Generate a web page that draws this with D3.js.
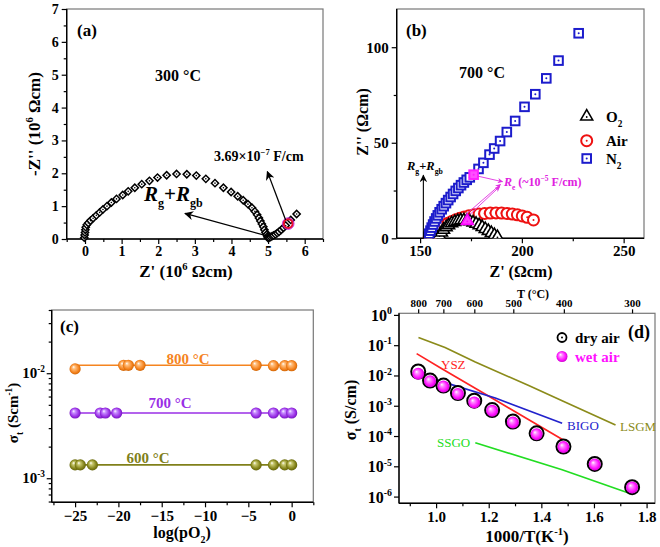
<!DOCTYPE html>
<html><head><meta charset="utf-8">
<script src="https://cdn.jsdelivr.net/npm/d3@7"></script>
<style>body{margin:0;background:#fff} svg{display:block}</style>
</head><body><svg id="c" width="660" height="547"></svg>
<script>
// ---------------- DATA ----------------
// (a) 300 °C impedance arc (Z' , -Z'' in 10^6 Ωcm)
const aArc = [[-0.02,0.04],[-0.01,0.12],[0.0,0.2],[0.01,0.28],[0.02,0.36],[0.05,0.43],[0.09,0.49],[0.15,0.56],[0.22,0.63],[0.31,0.72],[0.4,0.81],[0.49,0.9],[0.6,1.0],[0.72,1.11],[0.86,1.22],[1.03,1.34],[1.18,1.45],[1.36,1.56],[1.55,1.67],[1.76,1.77],[1.98,1.87],[2.23,1.94],[2.5,1.98],[2.78,1.97],[3.04,1.93],[3.3,1.83],[3.55,1.7],[3.78,1.56],[3.99,1.43],[4.17,1.3],[4.32,1.18],[4.45,1.06],[4.56,0.95],[4.64,0.84],[4.7,0.74],[4.75,0.64],[4.79,0.55],[4.83,0.46],[4.87,0.37],[4.9,0.28],[4.93,0.2],[4.96,0.13],[4.98,0.07],[5.0,0.03]];
const aTail = [[5.03,0.04],[5.07,0.06],[5.11,0.09],[5.15,0.11],[5.2,0.14],[5.25,0.18],[5.3,0.22],[5.36,0.28],[5.42,0.34],[5.48,0.41],[5.62,0.58],[5.78,0.76]];
const aMark = [5.55,0.47];
const aXTicks = [0,1,2,3,4,5,6];
const aYTicks = [0,1,2,3,4,5,6,7];

// (b) 700 °C impedance (Ωcm)
const bN2 = [[154,0.8],[154.5,2.4],[155.1,4],[155.7,5.6],[156.4,7.2],[157.1,8.8],[157.9,10.4],[158.7,12],[159.6,13.6],[160.6,15.2],[161.6,16.8],[162.7,18.4],[163.8,20],[165,21.6],[166.2,23.2],[167.5,24.8],[168.8,26.3],[170.1,27.8],[171.5,29.2],[172.9,30.6],[174.4,31.9],[178.7,36.3],[181.1,39.5],[184.1,43.8],[186.4,47],[189.3,50.9],[192.6,55.6],[196.7,61.4],[201.3,68.8],[206.6,75.4],[212,83.7],[218,93],[227.9,107.3]];
const bAir = [[154.5,0.5],[155.5,1.5],[156.5,2.6],[157.7,3.7],[159,4.8],[160.5,5.9],[162,6.9],[163.7,7.9],[165.5,8.8],[167.5,9.7],[169.5,10.5],[171.7,11.2],[174,11.8],[176.5,12.3],[179,12.7],[181.7,13],[184.5,13.2],[187.3,13.3],[190,13.2],[192.7,13],[195.3,12.7],[197.8,12.3],[200.2,11.7],[202.6,11],[205.7,9.6]];
const bO2 = [[158.5,0.5],[159.5,2],[160.5,3.5],[161.5,5],[162.8,6.3],[164,7.4],[165.5,8.4],[167,9.1],[168.5,9.6],[170,9.9],[171.5,10],[173,9.8],[174.5,9.4],[176,8.8],[177.5,8.1],[179,7.3],[180.5,6.4],[182,5.4],[183.5,4.4],[185,3.3],[186.5,2.2],[188,1.2]];
const bMarkN2 = [176.3,33.3];
const bMarkO2 = [173.2,9.6];
const bXTicks = [150,200,250];
const bYTicks = [0,50,100];

// (c) conductivity vs log(pO2)
const cTemps = ["800 °C","700 °C","600 °C"];
const cLogPO2 = [
  [-25,-19.4,-18.85,-17.5,-4.1,-2.1,-0.8,0],
  [-25,-22.1,-21.5,-20.2,-4.1,-2.1,-0.8,0],
  [-25,-24.4,-23,-4.1,-2.1,-0.8,0]
];
const cSigma = [
  [0.0110,0.0119,0.0119,0.0119,0.0119,0.0118,0.0118,0.0118],
  [0.00418,0.00418,0.00418,0.00418,0.00418,0.00418,0.00418,0.00418],
  [0.00134,0.00134,0.00134,0.00134,0.00134,0.00134,0.00134]
];
const cLineY = [0.0119,0.00418,0.00134];
const cXTicks = [-25,-20,-15,-10,-5,0];

// (d) Arrhenius plot
const dInvT = [0.932,0.977,1.028,1.083,1.145,1.213,1.292,1.382,1.484,1.603,1.745];
const dDry = [0.0135,0.0068,0.00464,0.00264,0.00147,7.2e-4,3.0e-4,1.23e-4,4.5e-5,1.2e-5,2.05e-6];
const dWet = [0.01135,0.00647,0.0043,0.00245,0.00129,6.8e-4,2.78e-4,1.14e-4,4.3e-5,1.14e-5,2.0e-6];
const dLSGM = [[0.933,0.18],[1.034,0.0836],[1.149,0.0278],[1.352,0.00464],[1.479,0.00147],[1.682,2.3e-4]];
const dYSZ = [[0.926,0.0527],[1.022,0.0167],[1.225,0.00155],[1.485,7.2e-5]];
const dBIGO = [[0.928,0.0114],[1.05,0.0053],[1.225,0.0018],[1.479,2.64e-4]];
const dSSGO = [[1.149,6e-5],[1.479,7.7e-6],[1.745,1.2e-6]];
const dXTicks = [1.0,1.2,1.4,1.6,1.8];
const dTopT = [800,700,600,500,400,300];
const dYExp = [0,-1,-2,-3,-4,-5,-6];

// ---------------- DRAWING ----------------
const FONT = '"Liberation Serif","Times New Roman",serif';
const svg = d3.select("#c");
const defs = svg.append("defs");

function arrowMarker(id, color, w) {
  defs.append("marker").attr("id", id).attr("viewBox","0 0 10 10").attr("refX",9).attr("refY",5)
    .attr("markerWidth", w).attr("markerHeight", w).attr("orient","auto-start-reverse")
    .append("path").attr("d","M0,0 L10,5 L0,10 L3,5 z").attr("fill", color);
}
arrowMarker("arrK","#000",7);
arrowMarker("arrM","#e030e0",6);

function ballGrad(id, light, mid, dark) {
  const g = defs.append("radialGradient").attr("id", id).attr("cx","50%").attr("cy","50%").attr("r","55%").attr("fx","35%").attr("fy","32%");
  g.append("stop").attr("offset","0%").attr("stop-color","#ffffff");
  g.append("stop").attr("offset","25%").attr("stop-color",light);
  g.append("stop").attr("offset","70%").attr("stop-color",mid);
  g.append("stop").attr("offset","100%").attr("stop-color",dark);
}
ballGrad("gOr","#ffc080","#f5841f","#c85e00");
ballGrad("gPu","#c890ff","#9a2fe6","#6a10b0");
ballGrad("gOl","#c8c870","#84841a","#5a5a08");
ballGrad("gMa","#ff90ff","#ff10ff","#c000c0");

function rich(sel, x, y, parts, fs, opts = {}) {
  const t = sel.append("text").attr("font-size", fs).attr("font-family", FONT)
    .attr("font-weight", opts.weight || "bold").attr("text-anchor", opts.anchor || "start")
    .attr("fill", opts.fill || "#000");
  if (opts.rotate) t.attr("transform", `translate(${x},${y}) rotate(-90)`).attr("x",0).attr("y",0);
  else t.attr("x", x).attr("y", y);
  let shift = 0;
  parts.forEach(p => {
    const target = p.sup ? -0.42 * fs : p.sub ? 0.3 * fs : 0;
    const ts = t.append("tspan").text(p.t).attr("dy", target - shift);
    if (p.sup || p.sub) ts.attr("font-size", fs * 0.62);
    if (p.it) ts.attr("font-style", "italic");
    if (p.fs) ts.attr("font-size", p.fs);
    shift = target;
  });
  return t;
}

function frame(x0, x1, y0, y1) {
  svg.append("rect").attr("x", x0).attr("y", y0).attr("width", x1 - x0).attr("height", y1 - y0)
    .attr("fill","none").attr("stroke","#777").attr("stroke-width",1.2);
  svg.append("line").attr("x1",x0).attr("x2",x0).attr("y1",y0).attr("y2",y1).attr("stroke","#000").attr("stroke-width",1.4);
  svg.append("line").attr("x1",x0).attr("x2",x1).attr("y1",y1).attr("y2",y1).attr("stroke","#000").attr("stroke-width",1.4);
}

function drawAxis(gen, tx, ty, fs) {
  const a = svg.append("g").attr("transform", `translate(${tx},${ty})`).call(gen);
  a.select(".domain").remove();
  a.selectAll("line").attr("stroke","#000").attr("stroke-width",1.2);
  a.selectAll("text").attr("font-family", FONT).attr("font-weight","bold").attr("font-size", fs).attr("fill","#000");
  return a;
}
function range(a, b, s) { const r = []; for (let v = a; v <= b + 1e-9; v += s) r.push(+v.toFixed(4)); return r; }
const intFmt = d3.format("d");

// ===== Panel (a) =====
{
  const X = d3.scaleLinear().domain([-0.5, 6.5]).range([66.7, 323]);
  const Y = d3.scaleLinear().domain([0, 7]).range([239, 9]);
  frame(66.7, 323, 9, 239);
  drawAxis(d3.axisBottom(X).tickValues(range(-0.5,6.5,0.5).filter(v=>!aXTicks.includes(v))).tickSize(3).tickFormat(""), 0, 239, 14);
  drawAxis(d3.axisBottom(X).tickValues(aXTicks).tickSize(5).tickPadding(2).tickFormat(intFmt), 0, 239, 14);
  drawAxis(d3.axisLeft(Y).tickValues(range(0.5,6.5,1)).tickSize(3).tickFormat(""), 66.7, 0, 14);
  drawAxis(d3.axisLeft(Y).tickValues(aYTicks).tickSize(5).tickPadding(3).tickFormat(intFmt), 66.7, 0, 14);

  const sym = d3.symbol(d3.symbolSquare, 26);
  const g = svg.append("g");
  aArc.concat(aTail).forEach(d => {
    g.append("path").attr("d", sym()).attr("transform", `translate(${X(d[0])},${Y(d[1])}) rotate(45)`)
      .attr("fill","#fff").attr("stroke","#000").attr("stroke-width",1.5);
    g.append("circle").attr("cx", X(d[0])).attr("cy", Y(d[1])).attr("r",0.8).attr("fill","#000");
  });
  svg.append("circle").attr("cx", X(aMark[0])).attr("cy", Y(aMark[1])).attr("r",4.5)
    .attr("fill","none").attr("stroke","#e8102a").attr("stroke-width",2.2);
  svg.append("circle").attr("cx", X(aMark[0])).attr("cy", Y(aMark[1])).attr("r",5.8)
    .attr("fill","none").attr("stroke","#c020e0").attr("stroke-width",0.9);
  // arrows
  svg.append("line").attr("x1", X(4.95)).attr("y1", Y(0.1)).attr("x2", X(2.73)).attr("y2", Y(0.78))
    .attr("stroke","#000").attr("stroke-width",1.3).attr("marker-end","url(#arrK)");
  svg.append("line").attr("x1", X(5.48)).attr("y1", Y(0.58)).attr("x2", X(4.98)).attr("y2", Y(2.05))
    .attr("stroke","#000").attr("stroke-width",1.3).attr("marker-end","url(#arrK)");

  rich(svg, 77, 36, [{t:"(a)"}], 17);
  rich(svg, 178, 81, [{t:"300 °C"}], 16, {anchor:"middle"});
  rich(svg, 214, 161, [{t:"3.69×10"},{t:"−7",sup:true},{t:" F/cm"}], 14);
  rich(svg, 144, 201, [{t:"R",it:true},{t:"g",sub:true,fs:12},{t:"+"},{t:"R",it:true},{t:"gb",sub:true,fs:12}], 21);
  rich(svg, 40, 124, [{t:"-Z'' (10"},{t:"6",sup:true},{t:" Ωcm)"}], 17, {anchor:"middle", rotate:true});
  rich(svg, 186, 277, [{t:"Z' (10"},{t:"6",sup:true},{t:" Ωcm)"}], 17, {anchor:"middle"});
}

// ===== Panel (b) =====
{
  const X = d3.scaleLinear().domain([138.5, 260]).range([396.7, 644]);
  const Y = d3.scaleLinear().domain([0, 120]).range([238.3, 9]);
  frame(396.7, 644, 9, 238.3);
  drawAxis(d3.axisBottom(X).tickValues([175,225]).tickSize(3).tickFormat(""), 0, 238.3, 15);
  drawAxis(d3.axisBottom(X).tickValues(bXTicks).tickSize(5).tickPadding(2).tickFormat(intFmt), 0, 238.3, 15);
  drawAxis(d3.axisLeft(Y).tickValues([25,75]).tickSize(3).tickFormat(""), 396.7, 0, 15);
  drawAxis(d3.axisLeft(Y).tickValues(bYTicks).tickSize(5).tickPadding(3).tickFormat(intFmt), 396.7, 0, 15);

  defs.append("clipPath").attr("id","clipB").append("rect").attr("x",396.7).attr("y",9).attr("width",247.3).attr("height",229.3);
  const g = svg.append("g").attr("clip-path","url(#clipB)");
  const circ = (gg, x, y, col) => {
    gg.append("circle").attr("cx", x).attr("cy", y).attr("r",5.5).attr("fill","#fff").attr("stroke",col).attr("stroke-width",2);
    gg.append("circle").attr("cx", x).attr("cy", y).attr("r",1).attr("fill",col);
  };
  const tri = (gg, x, y, col, fill) => {
    gg.append("path").attr("d", d3.symbol(d3.symbolTriangle, 62)()).attr("transform",`translate(${x},${y+1})`)
      .attr("fill", fill || "#fff").attr("stroke",col).attr("stroke-width",1.6);
    gg.append("circle").attr("cx", x).attr("cy", y+1.5).attr("r",0.9).attr("fill",col);
  };
  const sq = (gg, x, y, col, fill) => {
    gg.append("rect").attr("x", x-4.3).attr("y", y-4.3).attr("width",8.6).attr("height",8.6)
      .attr("fill", fill || "#fff").attr("stroke",col).attr("stroke-width",2);
    gg.append("circle").attr("cx", x).attr("cy", y).attr("r",1).attr("fill",col);
  };
  bAir.forEach(d => circ(g, X(d[0]), Y(d[1]), "#ee1111"));
  bO2.forEach(d => tri(g, X(d[0]), Y(d[1]), "#000"));
  tri(g, X(bMarkO2[0]), Y(bMarkO2[1]), "#ff00ff", "#ff40ff");
  bN2.forEach(d => sq(g, X(d[0]), Y(d[1]), "#1c1ccc"));
  sq(g, X(bMarkN2[0]), Y(bMarkN2[1]), "#ff20ff", "#ff50ff");

  // Rg+Rgb arrow
  svg.append("line").attr("x1", X(151.6)).attr("y1", Y(0)).attr("x2", X(151.6)).attr("y2", Y(33))
    .attr("stroke","#000").attr("stroke-width",1.1).attr("marker-end","url(#arrK)");
  rich(svg, 407, 170, [{t:"R",it:true},{t:"g",sub:true},{t:"+"},{t:"R",it:true},{t:"gb",sub:true}], 12.5);
  // magenta arrows
  const mA = (x1,y1,x2,y2) => svg.append("line").attr("x1",X(x1)).attr("y1",Y(y1)).attr("x2",X(x2)).attr("y2",Y(y2))
      .attr("stroke","#e030e0").attr("stroke-width",0.9).attr("marker-end","url(#arrM)");
  mA(178.5,32.5,190.5,29.6);
  mA(172.5,12.5,189.5,28.2);
  mA(174.2,12.2,189,27);
  rich(svg, 504, 186, [{t:"R",it:true},{t:"e",sub:true},{t:" (~10"},{t:"−5",sup:true},{t:" F/cm)"}], 12, {fill:"#e020e0"});

  rich(svg, 406, 36, [{t:"(b)"}], 17);
  rich(svg, 482, 78, [{t:"700 °C"}], 16, {anchor:"middle"});
  // legend
  const lg = svg.append("g");
  tri(lg, 586.7, 115.5, "#000");
  circ(lg, 586.7, 140.7, "#ee1111");
  sq(lg, 586.7, 158.5, "#1c1ccc");
  rich(svg, 606, 122, [{t:"O"},{t:"2",sub:true}], 15);
  rich(svg, 606, 146, [{t:"Air"}], 15);
  rich(svg, 606, 164, [{t:"N"},{t:"2",sub:true}], 15);

  rich(svg, 368, 122, [{t:"Z'' (Ωcm)"}], 16, {anchor:"middle", rotate:true});
  rich(svg, 521, 277, [{t:"Z' (Ωcm)"}], 16, {anchor:"middle"});
}

// ===== Panel (c) =====
{
  const X = d3.scaleLinear().domain([-27.7, 2.5]).range([51.7, 313.3]);
  const Y = d3.scaleLog().domain([5.9e-4, 0.04]).range([502.3, 310]);
  frame(51.7, 313.3, 310, 502.3);
  drawAxis(d3.axisBottom(X).tickValues(range(-27.5,2.5,5)).tickSize(3).tickFormat(""), 0, 502.3, 15);
  drawAxis(d3.axisBottom(X).tickValues(cXTicks).tickSize(5).tickPadding(3).tickFormat(intFmt), 0, 502.3, 15);
  const minorY = [6e-4,7e-4,8e-4,9e-4,2e-3,3e-3,4e-3,5e-3,6e-3,7e-3,8e-3,9e-3,2e-2,3e-2,4e-2];
  drawAxis(d3.axisLeft(Y).tickValues(minorY).tickSize(3).tickFormat(""), 51.7, 0, 15);
  drawAxis(d3.axisLeft(Y).tickValues([1e-3,1e-2]).tickSize(5).tickFormat(""), 51.7, 0, 15);
  [[1e-2,"-2"],[1e-3,"-3"]].forEach(([v,e]) => rich(svg, 45, Y(v)+5, [{t:"10"},{t:e,sup:true}], 15, {anchor:"end"}));

  const cols = ["#f5841f","#9a2fe6","#80801a"];
  const grads = ["url(#gOr)","url(#gPu)","url(#gOl)"];
  cTemps.forEach((lab, i) => {
    svg.append("line").attr("x1", X(-25)).attr("x2", X(0)).attr("y1", Y(cLineY[i])).attr("y2", Y(cLineY[i]))
      .attr("stroke", cols[i]).attr("stroke-width",1.6);
    cLogPO2[i].forEach((x, j) => {
      svg.append("circle").attr("cx", X(x)).attr("cy", Y(cSigma[i][j])).attr("r",5.6).attr("fill", grads[i]);
    });
  });
  rich(svg, 188, 364, [{t:"800 °C"}], 15, {anchor:"middle", fill:cols[0]});
  rich(svg, 170, 408, [{t:"700 °C"}], 15, {anchor:"middle", fill:cols[1]});
  rich(svg, 148, 463, [{t:"600 °C"}], 15, {anchor:"middle", fill:cols[2]});
  rich(svg, 60, 332, [{t:"(c)"}], 17);
  rich(svg, 18, 413, [{t:"σ"},{t:"t",sub:true},{t:" (Scm"},{t:"-1",sup:true},{t:")"}], 15, {anchor:"middle", rotate:true});
  rich(svg, 182, 538, [{t:"log(pO"},{t:"2",sub:true},{t:")"}], 16, {anchor:"middle"});
}

// ===== Panel (d) =====
{
  const X = d3.scaleLinear().domain([0.859, 1.832]).range([399, 655]);
  const Y = d3.scaleLog().domain([6e-7, 1.13]).range([503.3, 313.3]);
  frame(399, 655, 313.3, 503.3);
  drawAxis(d3.axisBottom(X).tickValues([0.9,1.1,1.3,1.5,1.7]).tickSize(3).tickFormat(""), 0, 503.3, 15);
  drawAxis(d3.axisBottom(X).tickValues(dXTicks).tickSize(5).tickPadding(3).tickFormat(d3.format(".1f")), 0, 503.3, 15);
  drawAxis(d3.axisLeft(Y).tickValues(dYExp.map(e => Math.pow(10, e))).tickSize(5).tickFormat(""), 399, 0, 15);
  dYExp.forEach(e => rich(svg, 392, Y(Math.pow(10, e)) + 6, [{t:"10"},{t:String(e),sup:true}], 16, {anchor:"end"}));
  // top axis in °C
  drawAxis(d3.axisTop(X).tickValues(dTopT.map(t => 1000 / (t + 273.15))).tickSize(4).tickPadding(2)
      .tickFormat((d, i) => String(dTopT[i])), 0, 313.3, 11);
  rich(svg, 533, 298, [{t:"T (°C)"}], 12, {anchor:"middle"});

  const line = d3.line().x(d => X(d[0])).y(d => Y(d[1]));
  const series = [[dLSGM,"#8b8b1a"],[dYSZ,"#ff2222"],[dBIGO,"#2222cc"],[dSSGO,"#22dd22"]];
  series.forEach(([d, c]) => svg.append("path").attr("d", line(d)).attr("fill","none").attr("stroke", c).attr("stroke-width",1.7));
  rich(svg, 620, 431, [{t:"LSGM"}], 13, {weight:"normal", fill:"#8b8b1a"});
  rich(svg, 441, 369, [{t:"YSZ"}], 13, {weight:"normal", fill:"#ff2222"});
  rich(svg, 567, 430, [{t:"BIGO"}], 13, {weight:"normal", fill:"#2222cc"});
  rich(svg, 437, 447, [{t:"SSGO"}], 13, {weight:"normal", fill:"#22dd22"});

  dInvT.forEach((x, i) => {
    svg.append("circle").attr("cx", X(x)).attr("cy", Y(dDry[i])).attr("r",7).attr("fill","#fff").attr("stroke","#000").attr("stroke-width",2);
  });
  dInvT.forEach((x, i) => {
    svg.append("circle").attr("cx", X(x)).attr("cy", Y(dWet[i])).attr("r",6).attr("fill","url(#gMa)");
  });
  // legend
  svg.append("circle").attr("cx",562).attr("cy",337.5).attr("r",4.5).attr("fill","#fff").attr("stroke","#000").attr("stroke-width",1.8);
  svg.append("circle").attr("cx",562).attr("cy",337.5).attr("r",1).attr("fill","#000");
  svg.append("circle").attr("cx",562).attr("cy",356.5).attr("r",5.5).attr("fill","url(#gMa)");
  rich(svg, 575, 343, [{t:"dry air"}], 15);
  rich(svg, 575, 362, [{t:"wet air"}], 15, {fill:"#ff10ff"});
  rich(svg, 628, 338, [{t:"(d)"}], 18);
  rich(svg, 356, 410, [{t:"σ"},{t:"t",sub:true},{t:" (S/cm)"}], 16, {anchor:"middle", rotate:true});
  rich(svg, 527, 542, [{t:"1000/T(K"},{t:"-1",sup:true},{t:")"}], 17, {anchor:"middle"});
}
</script></body></html>
